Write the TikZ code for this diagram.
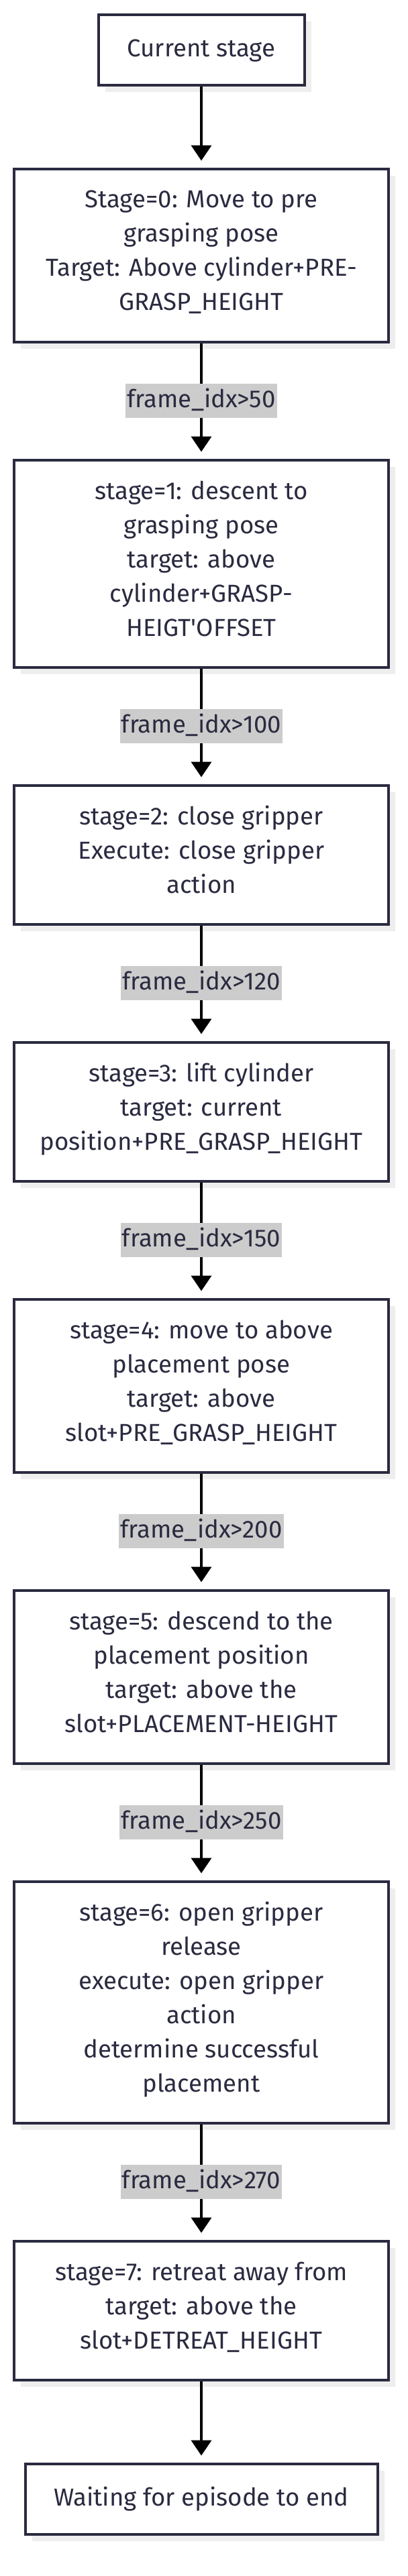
\documentclass[tikz,border=0pt]{standalone}
\usepackage{fontspec}
\setmainfont{Fira Sans}
\usepackage{tikz}
\usetikzlibrary{arrows.meta,positioning,shadows}
\definecolor{boxnavy}{RGB}{42,42,64}
\definecolor{condgray}{RGB}{204,204,204}
\definecolor{shadowgray}{RGB}{238,238,238}
\tikzset{
  every picture/.style={text=boxnavy},
}

\begin{document}
\begin{tikzpicture}[
  every node/.style={font=\fontsize{18.3}{25.5}\selectfont, text=boxnavy},
  stagebox/.style={draw=boxnavy, line width=2pt, fill=white, align=center,
    minimum width=279pt, minimum height={27pt+25.5pt*#1},
    inner xsep=10pt, inner ysep=0pt,
    execute at begin node=\strut, execute at end node=\strut,
    drop shadow={shadow xshift=5pt, shadow yshift=-5pt, fill=shadowgray, opacity=1}},
  stagebox/.default=1,
  cond/.style={fill=condgray, inner xsep=1pt, inner ysep=0pt,
    minimum height=25pt, execute at begin node=\strut},
  flow/.style={draw=black, line width=2pt,
    -{Triangle[width=15pt,length=11.5pt]}, shorten >=5pt},
  node distance=86pt]
\useasboundingbox (0,0) rectangle (304pt,-1920pt);
% Stage boxes down the middle
\node[stagebox=1, minimum width=153.5pt] (cur) at (150pt,-37pt) {Current stage};
\node[stagebox=4, below=60.5pt of cur] (s0) {Stage=0: Move to pre\\grasping pose\\Target: Above cylinder+PRE-\\GRASP\_HEIGHT};
\node[stagebox=5, below=of s0] (s1) {stage=1: descent to\\grasping pose\\target: above\\cylinder+GRASP-\\HEIGT\textquotesingle OFFSET};
\node[stagebox=3, below=of s1] (s2) {stage=2: close gripper\\Execute: close gripper\\action};
\node[stagebox=3, below=of s2] (s3) {stage=3: lift cylinder\\target: current\\position+PRE\_GRASP\_HEIGHT};
\node[stagebox=4, below=of s3] (s4) {stage=4: move to above\\placement pose\\target: above\\slot+PRE\_GRASP\_HEIGHT};
\node[stagebox=4, below=of s4] (s5) {stage=5: descend to the\\placement position\\target: above the\\slot+PLACEMENT-HEIGHT};
\node[stagebox=6, below=of s5] (s6) {stage=6: open gripper\\release\\execute: open gripper\\action\\determine successful\\placement};
\node[stagebox=3, below=of s6] (s7) {stage=7: retreat away from\\target: above the\\slot+DETREAT\_HEIGHT};
\node[stagebox=1, minimum width=262.5pt, below=60.5pt of s7] (wait) {Waiting for episode to end};
% Transitions with frame conditions
\draw[flow] (cur) -- (s0);
\foreach \a/\b/\f in {s0/s1/50,s1/s2/100,s2/s3/120,s3/s4/150,s4/s5/200,s5/s6/250,s6/s7/270}{
  \draw[flow] (\a) -- node[cond] {frame\_idx>\f} (\b);
}
\draw[flow] (s7) -- (wait);
\end{tikzpicture}
\end{document}
